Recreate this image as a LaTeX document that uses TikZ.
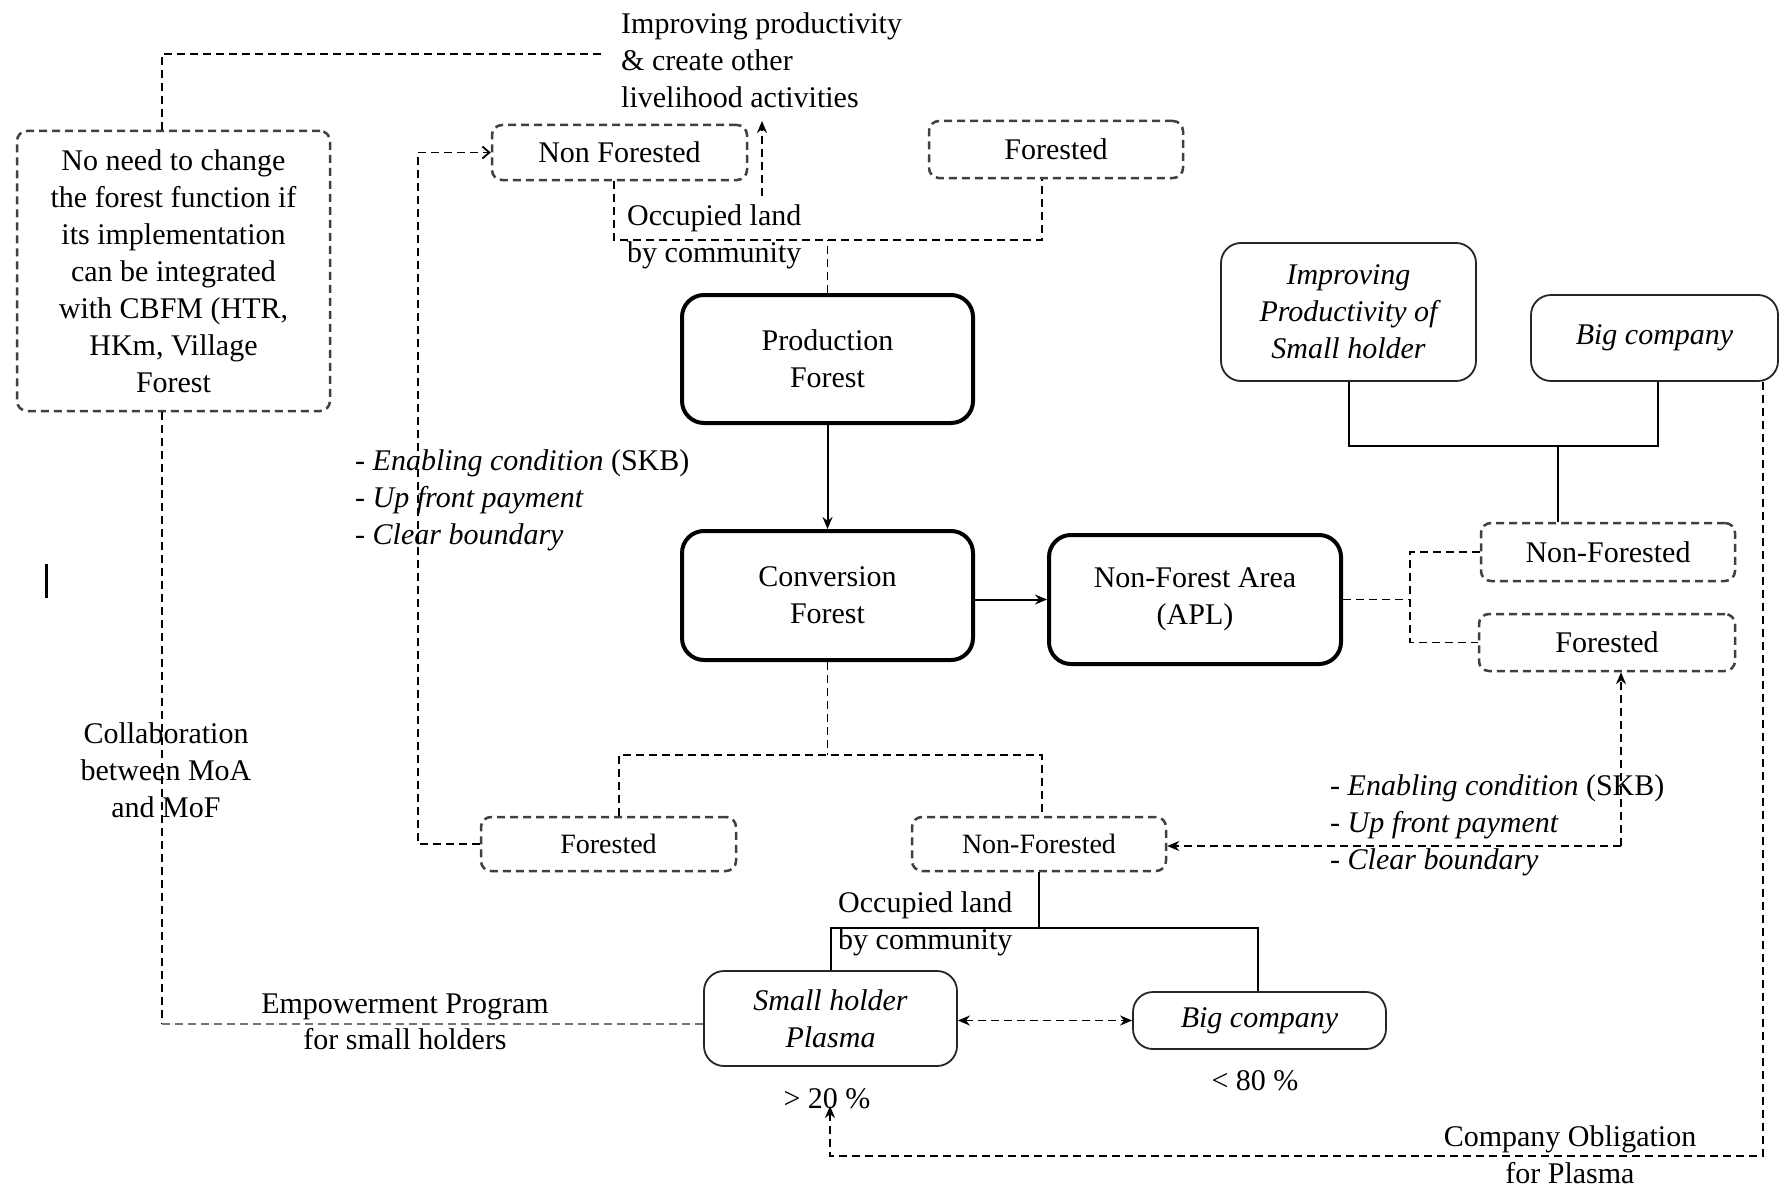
\documentclass[tikz,border=0pt]{standalone}
\usepackage{fontspec}
\setmainfont{Liberation Serif}
\usetikzlibrary{arrows.meta}
\begin{document}
\begin{tikzpicture}[x=1pt,y=-1pt,
  every node/.style={font=\fontsize{30}{37}\selectfont, inner sep=0pt},
  dbox/.style={draw=black!75, dash pattern=on 8pt off 5pt, line width=2.5pt, rounded corners=10pt, align=center},
  tbox/.style={draw=black, line width=4pt, rounded corners=22pt, align=center},
  ibox/.style={draw=black!85, line width=1.8pt, rounded corners=20pt, align=center, font=\fontsize{30}{37}\selectfont\itshape},
  dline/.style={draw=black, line width=1.8pt, dash pattern=on 8pt off 5pt},
  sline/.style={draw=black, line width=2pt},
  arr/.style={-{Stealth[length=12pt,width=10pt]}},
  oarr/.style={-{Straight Barb[length=7pt,width=12pt]}},
  lbl/.style={align=left, anchor=west},
  clbl/.style={align=center}
]
\useasboundingbox (0,0) rectangle (1780,1188);
\fill[white] (0,0) rectangle (1780,1188);

% boxes
\node[dbox, minimum width=255pt, minimum height=55pt] (nfTop) at (619.5,152.5) {Non Forested};
\node[dbox, minimum width=254pt, minimum height=57pt] (fTop) at (1056,149.5) {Forested};
\node[dbox, minimum width=313pt, minimum height=280pt] (noneed) at (173.5,271)
  {No need to change\\the forest function if\\its implementation\\can be integrated\\with CBFM (HTR,\\HKm, Village\\Forest};
\node[tbox, minimum width=291pt, minimum height=128pt] (prod) at (827.5,359) {Production\\Forest};
\node[tbox, minimum width=291pt, minimum height=129pt] (conv) at (827.5,595.5) {Conversion\\Forest};
\node[tbox, minimum width=292pt, minimum height=129pt] (apl) at (1195,599.5) {Non-Forest Area\\(APL)};
\node[ibox, minimum width=255pt, minimum height=138pt] (impSH) at (1348.5,312) {Improving\\Productivity of\\Small holder};
\node[ibox, minimum width=247pt, minimum height=86pt] (bigTop) at (1654.5,338) {Big company};
\node[dbox, minimum width=254pt, minimum height=58pt] (nfR) at (1608,552) {Non-Forested};
\node[dbox, minimum width=256pt, minimum height=57pt] (fR) at (1607,642.5) {Forested};
\node[dbox, minimum width=255pt, minimum height=54pt, font=\fontsize{28}{34}\selectfont] (fBL) at (608.5,844) {Forested};
\node[dbox, minimum width=254pt, minimum height=54pt, font=\fontsize{28}{34}\selectfont] (nfB) at (1039,844) {Non-Forested};
\node[ibox, minimum width=253pt, minimum height=95pt] (plasma) at (830.5,1018.5) {Small holder\\Plasma};
\node[ibox, minimum width=253pt, minimum height=57pt] (bigB) at (1259.5,1020.5) {Big company};

% labels
\node[lbl] (topText) at (621,60) {Improving productivity\\\& create other\\livelihood activities};
\node[lbl] (occTop) at (627,237) {Occupied land\\by community};
\node[lbl] (enabL) at (355,500) {- \textit{Enabling condition} (SKB)\\- \textit{Up front payment}\\- \textit{Clear boundary}};
\node[lbl] (enabR) at (1330,825) {- \textit{Enabling condition} (SKB)\\- \textit{Up front payment}\\- \textit{Clear boundary}};
\node[clbl] (collab) at (166,770) {Collaboration\\between MoA\\and MoF};
\node[clbl, font=\fontsize{30}{36}\selectfont] (empow) at (405,1022) {Empowerment Program\\for small holders};
\node[lbl] (occB) at (838,924) {Occupied land\\by community};
\node[clbl] (pct20) at (827,1099) {> 20 \%};
\node[clbl] (pct80) at (1255,1081) {< 80 \%};
\node[clbl] (oblig) at (1570,1155) {Company Obligation\\for Plasma};

% stray cursor mark
\draw[line width=3pt] (46,564) -- (46,598);

% connectors
\coordinate (a1) at (602,54);
\draw[dline] ([xshift=-11.5pt]noneed.north) |- (a1);
\coordinate (b1) at (162,1024);
\draw[dline] ([xshift=-11.5pt]noneed.south) -- (b1);
\draw[dline, draw=black!55] (b1) -- (b1 -| plasma.west);

\draw[dline, oarr] (fBL.west) -- ++(-62,0) |- (nfTop.west);

\draw[dline] (prod.north) -- ++(0,-53) coordinate (j1);
\draw[dline] ([xshift=-5.5pt]nfTop.south) |- (j1) -| ([xshift=-14pt]fTop.south);

\coordinate (e0) at (762,196);
\coordinate (e1) at (762,121);
\draw[dline, arr] (e0) -- (e1);

\draw[sline, arr] (prod.south) -- (conv.north);
\draw[sline, arr] (conv.east |- apl.west) -- (apl.west);

\draw[dline] (conv.south) -- ++(0,93) coordinate (j2);
\draw[dline] ([xshift=10.5pt]fBL.north) |- (j2) -| ([xshift=3pt]nfB.north);

\draw[dline] (apl.east) -- ++(67,0) coordinate (j3);
\draw[dline] (nfR.west) -| (j3) |- (fR.west);

\draw[sline] (impSH.south) -- ++(0,64) coordinate (j5) -| ([xshift=3.5pt]bigTop.south);
\draw[sline] ([xshift=-50pt]nfR.north) -- ([xshift=-50pt]nfR.north |- j5);

\coordinate (k0) at (1621,846);
\draw[dline, arr] (k0) -- (k0 |- fR.south);
\draw[dline, arr] (k0) -- (k0 -| nfB.east);

\coordinate (l1) at (830,1106);
\draw[dline, arr] ([xshift=-16pt]bigTop.south east) -- ++(0,774) -| (l1);

\draw[sline] (nfB.south) -- ++(0,56) coordinate (j4);
\draw[sline] (plasma.north) |- (j4) -| ([xshift=-1.5pt]bigB.north);

\draw[dline, {Stealth[length=12pt,width=10pt]}-{Stealth[length=12pt,width=10pt]}] (plasma.east |- bigB.west) -- (bigB.west);
\end{tikzpicture}
\end{document}
